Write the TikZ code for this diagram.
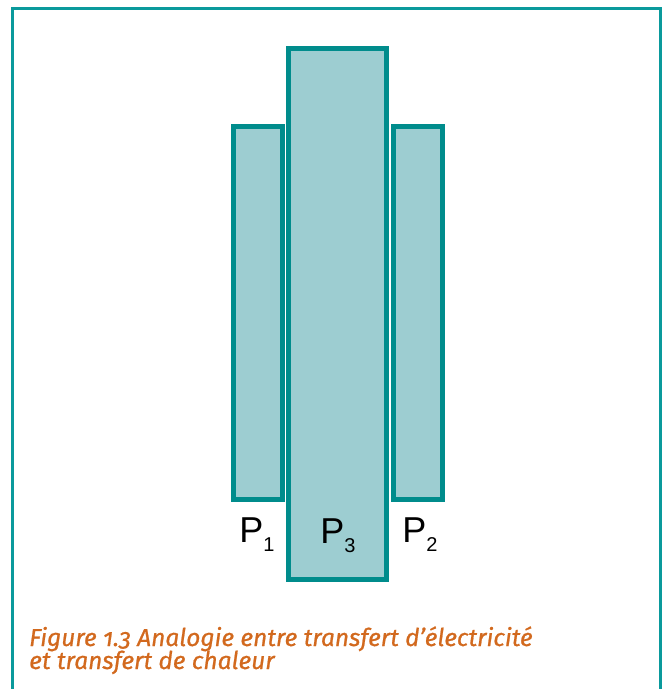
\documentclass[tikz,border=0pt]{standalone}
\usepackage{fontspec}
\setmainfont{Liberation Sans}
\newfontfamily\capfont[Numbers=OldStyle, ItalicFeatures={FakeBold=0.8}]{Fira Sans}
\definecolor{tealline}{HTML}{008C8C}
\definecolor{tealfill}{HTML}{9DCDD1}
\definecolor{framecol}{HTML}{0A9A9C}
\definecolor{capcol}{HTML}{D2691E}
\tikzset{
  plate/.style={draw=tealline, fill=tealfill, line width=5pt, inner sep=0pt, outer sep=0pt},
  plabel/.style={anchor=base, inner sep=0pt, font=\fontsize{36}{40}\selectfont},
  caption/.style={anchor=base west, inner sep=0pt, text=capcol,
    font=\capfont\itshape\fontsize{24.5}{24}\selectfont}
}
\begin{document}
\begin{tikzpicture}[x=1pt,y=-1pt]
\useasboundingbox (0,0) rectangle (668,689);
\clip (0,0) rectangle (668,689);
\draw[framecol, line width=3pt] (12.5,700) -- (12.5,8) -- (660.5,8) -- (660.5,700);
\node[plate, minimum width=49pt, minimum height=373pt] (p1) at (258,313) {};
\node[plate, minimum width=49pt, minimum height=373pt] (p2) at (418,313) {};
\node[plate, minimum width=98pt, minimum height=531pt] (p3) at (337.5,314) {};
\node[plabel] (l1) at (257,542) {P\raisebox{-9pt}{\fontsize{20}{20}\selectfont 1}};
\node[plabel] (l3) at (338,543) {P\raisebox{-9pt}{\fontsize{20}{20}\selectfont 3}};
\node[plabel] (l2) at (420,542) {P\raisebox{-9pt}{\fontsize{20}{20}\selectfont 2}};
\node[caption] (cap1) at (29,646) {Figure 1.3 Analogie entre transfert d’électricité};
\node[caption] (cap2) at (29,669) {et transfert de chaleur};
\end{tikzpicture}
\end{document}
